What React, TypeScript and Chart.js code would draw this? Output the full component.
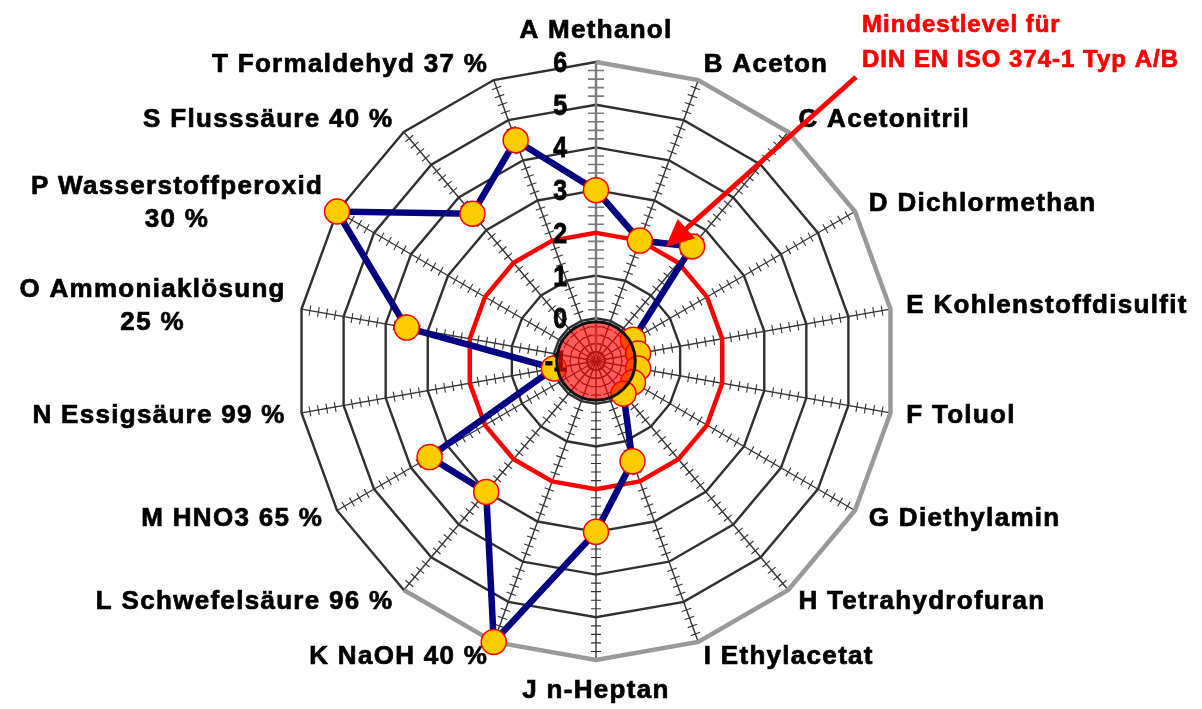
import React, { useEffect, useRef } from 'react';
import { Chart, registerables } from 'chart.js';

Chart.register(...registerables);

// ---------- data ----------
const categories: (string | string[])[] = [
  'A Methanol',
  'B Aceton',
  'C Acetonitril',
  'D Dichlormethan',
  'E Kohlenstoffdisulfit',
  'F Toluol',
  'G Diethylamin',
  'H Tetrahydrofuran',
  'I Ethylacetat',
  'J n-Heptan',
  'K NaOH 40 %',
  'L Schwefelsäure 96 %',
  'M HNO3 65 %',
  'N Essigsäure 99 %',
  ['O Ammoniaklösung', '25 %'],
  ['P Wasserstoffperoxid', '30 %'],
  'S Flusssäure 40 %',
  'T Formaldehyd 37 %',
];

const resistanceLevels = [3, 2, 2.5, 0, 0, 0, 0, 0, 1.5, 3, 6, 3, 3.5, 0, 3.5, 6, 3.5, 4.5];
const minimumLevel = [2, 2, 2, 2, 2, 2, 2, 2, 2, 2, 2, 2, 2, 2, 2, 2, 2, 2];
const outerRingLevels = [6, 6, 6, 6, 6, 6, 6, 6, 6, 6, 6, 6, null, null, null, null, null, null];

const scaleMin = -1;
const scaleMax = 6;
const tickLabels = ['6', '5', '4', '3', '2', '1', '0', '-1'];
const tickValues = [6, 5, 4, 3, 2, 1, 0, -1];
const minorStep = 0.2;
const centerDiscValue = -0.08;

const annotationLines = ['Mindestlevel für', 'DIN EN ISO 374-1 Typ A/B'];
// arrow tip: angle (degrees, clockwise from top) and value on the radial scale
const arrowTipAngleDeg = 31.4;
const arrowTipValue = 2.12;

// ---------- decoration plugin ----------
const LABEL_FONT = 'bold 26px "Liberation Sans", Arial, sans-serif';

function boldText(ctx: CanvasRenderingContext2D, t: string, x: number, y: number, w = 0.7) {
  ctx.fillText(t, x, y);
  ctx.lineWidth = w;
  ctx.strokeStyle = ctx.fillStyle as string;
  ctx.strokeText(t, x, y);
}

function drawLabelBlock(ctx: CanvasRenderingContext2D, lines: string[], x: number, y: number, align: string) {
  const lineH = 33;
  const widths = lines.map((l) => ctx.measureText(l).width);
  const blockW = Math.max(...widths);
  let cx = x;
  if (align === 'left') cx = x + blockW / 2;
  if (align === 'right') cx = x - blockW / 2;
  const top = y - ((lines.length - 1) * lineH) / 2;
  lines.forEach((l, i) => {
    ctx.textAlign = lines.length > 1 ? 'center' : (align as CanvasTextAlign);
    const tx = lines.length > 1 ? cx : x;
    boldText(ctx, l, tx, top + i * lineH);
  });
}

const radarDecor = {
  id: 'radarDecor',
  beforeDatasetsDraw(chart: any) {
    const s = chart.scales.r;
    const ctx: CanvasRenderingContext2D = chart.ctx;
    const n = chart.data.labels.length;
    ctx.save();
    // minor ticks along each spoke
    const steps = Math.round((scaleMax - scaleMin) / minorStep);
    for (let i = 0; i < n; i++) {
      const ang = s.getIndexAngle(i) - Math.PI / 2;
      const ux = Math.cos(ang);
      const uy = Math.sin(ang);
      const px = -uy;
      const py = ux;
      const half = i === 0 ? 8 : 5;
      ctx.strokeStyle = i === 0 ? '#7a7a7a' : '#333333';
      ctx.lineWidth = i === 0 ? 1.6 : 1.1;
      ctx.beginPath();
      for (let k = 1; k < steps; k++) {
        if (k % 5 === 0) continue;
        const v = scaleMin + k * minorStep;
        const d = s.getDistanceFromCenterForValue(v);
        const cx = s.xCenter + ux * d;
        const cy = s.yCenter + uy * d;
        ctx.moveTo(cx - px * half, cy - py * half);
        ctx.lineTo(cx + px * half, cy + py * half);
      }
      ctx.stroke();
    }
    // point labels
    ctx.font = LABEL_FONT;
    (ctx as any).letterSpacing = '1.3px';
    ctx.fillStyle = '#000000';
    ctx.textBaseline = 'middle';
    const R = s.drawingArea;
    for (let i = 0; i < n; i++) {
      const a = s.getIndexAngle(i);
      const deg = Math.round((a * 180) / Math.PI) % 360;
      const vertical = deg === 0 || deg === 180;
      const dist = vertical ? R + 31 : R + 16;
      const ang = a - Math.PI / 2;
      const x = s.xCenter + Math.cos(ang) * dist;
      const y = s.yCenter + Math.sin(ang) * dist;
      const align = vertical ? 'center' : deg < 180 ? 'left' : 'right';
      const lab = chart.data.labels[i];
      const lines = Array.isArray(lab) ? lab : [lab];
      drawLabelBlock(ctx, lines, x, y, align);
    }
    ctx.restore();
  },
  afterDatasetsDraw(chart: any) {
    const s = chart.scales.r;
    const ctx: CanvasRenderingContext2D = chart.ctx;
    ctx.save();
    // tick labels
    ctx.font = 'bold 29px "Liberation Sans", Arial, sans-serif';
    ctx.fillStyle = '#000000';
    ctx.textAlign = 'right';
    ctx.textBaseline = 'middle';
    tickValues.forEach((v, i) => {
      const d = s.getDistanceFromCenterForValue(v);
      ctx.save();
      ctx.translate(s.xCenter - 29, s.yCenter - d + 2);
      ctx.scale(0.86, 1);
      boldText(ctx, tickLabels[i], 0, 0, 0.8);
      ctx.restore();
    });
    // center disc
    const rd = s.getDistanceFromCenterForValue(centerDiscValue);
    ctx.beginPath();
    ctx.arc(s.xCenter, s.yCenter, rd, 0, Math.PI * 2);
    ctx.fillStyle = 'rgba(255,0,0,0.64)';
    ctx.fill();
    ctx.lineWidth = 3;
    ctx.strokeStyle = '#111111';
    ctx.stroke();

    // annotation text
    ctx.font = 'bold 24px "Liberation Sans", Arial, sans-serif';
    (ctx as any).letterSpacing = '1px';
    ctx.fillStyle = '#ff0000';
    ctx.textAlign = 'left';
    ctx.textBaseline = 'middle';
    const textX = s.xCenter + 266;
    const textY = s.yCenter - 336;
    annotationLines.forEach((l, i) => boldText(ctx, l, textX, textY + i * 35, 0.7));

    // arrow
    const tipA = (arrowTipAngleDeg * Math.PI) / 180 - Math.PI / 2;
    const tipD = s.getDistanceFromCenterForValue(arrowTipValue);
    const tx = s.xCenter + Math.cos(tipA) * tipD;
    const ty = s.yCenter + Math.sin(tipA) * tipD;
    const sx = textX - 6;
    const sy = textY + 52;
    const len = Math.hypot(tx - sx, ty - sy);
    const ux = (tx - sx) / len;
    const uy = (ty - sy) / len;
    const headL = 28;
    const headW = 13;
    const bx = tx - ux * headL;
    const by = ty - uy * headL;
    ctx.strokeStyle = '#ff0000';
    ctx.lineWidth = 5;
    ctx.beginPath();
    ctx.moveTo(sx, sy);
    ctx.lineTo(bx + ux * 2, by + uy * 2);
    ctx.stroke();
    ctx.fillStyle = '#ff0000';
    ctx.beginPath();
    ctx.moveTo(tx, ty);
    ctx.lineTo(bx - uy * headW, by + ux * headW);
    ctx.lineTo(bx + uy * headW, by - ux * headW);
    ctx.closePath();
    ctx.fill();
    ctx.restore();
  },
};

export default function App() {
  const canvasRef = useRef<HTMLCanvasElement | null>(null);

  useEffect(() => {
    if (!canvasRef.current) return;
    const chart = new Chart(canvasRef.current, {
      type: 'radar',
      data: {
        labels: categories as any,
        datasets: [
          {
            label: 'Beständigkeit',
            data: resistanceLevels,
            borderColor: '#000080',
            borderWidth: 6.5,
            backgroundColor: 'transparent',
            fill: false,
            pointRadius: 12.5,
            pointBackgroundColor: '#ffcc00',
            pointBorderColor: '#ff0000',
            pointBorderWidth: 1.5,
            tension: 0,
          },
          {
            label: 'Mindestlevel',
            data: minimumLevel,
            borderColor: '#ff0000',
            borderWidth: 4.5,
            backgroundColor: 'transparent',
            fill: false,
            pointRadius: 0,
          },
          {
            label: 'Rand',
            data: outerRingLevels as any,
            borderColor: '#999999',
            borderWidth: 4.5,
            backgroundColor: 'transparent',
            fill: false,
            pointRadius: 0,
            spanGaps: false,
          },
        ],
      },
      options: {
        responsive: false,
        maintainAspectRatio: false,
        devicePixelRatio: 1,
        animation: false,
        layout: { padding: { left: 297, right: 307, top: 62, bottom: 49 } },
        plugins: {
          legend: { display: false },
          tooltip: { enabled: false },
        },
        scales: {
          r: {
            min: scaleMin,
            max: scaleMax,
            beginAtZero: false,
            ticks: { display: false, stepSize: 1 },
            pointLabels: { display: false },
            grid: { color: '#303030', lineWidth: 2.4, circular: false },
            angleLines: {
              color: (c: any) => (c.index === 0 ? '#7a7a7a' : '#333333'),
              lineWidth: (c: any) => (c.index === 0 ? 2.4 : 1.4),
            },
          },
        },
      },
      plugins: [radarDecor],
    } as any);
    return () => chart.destroy();
  }, []);

  return (
    <div style={{ position: 'fixed', left: 0, top: 0, width: 1202, height: 709, background: '#fff' }}>
      <canvas ref={canvasRef} width={1202} height={709} />
    </div>
  );
}
